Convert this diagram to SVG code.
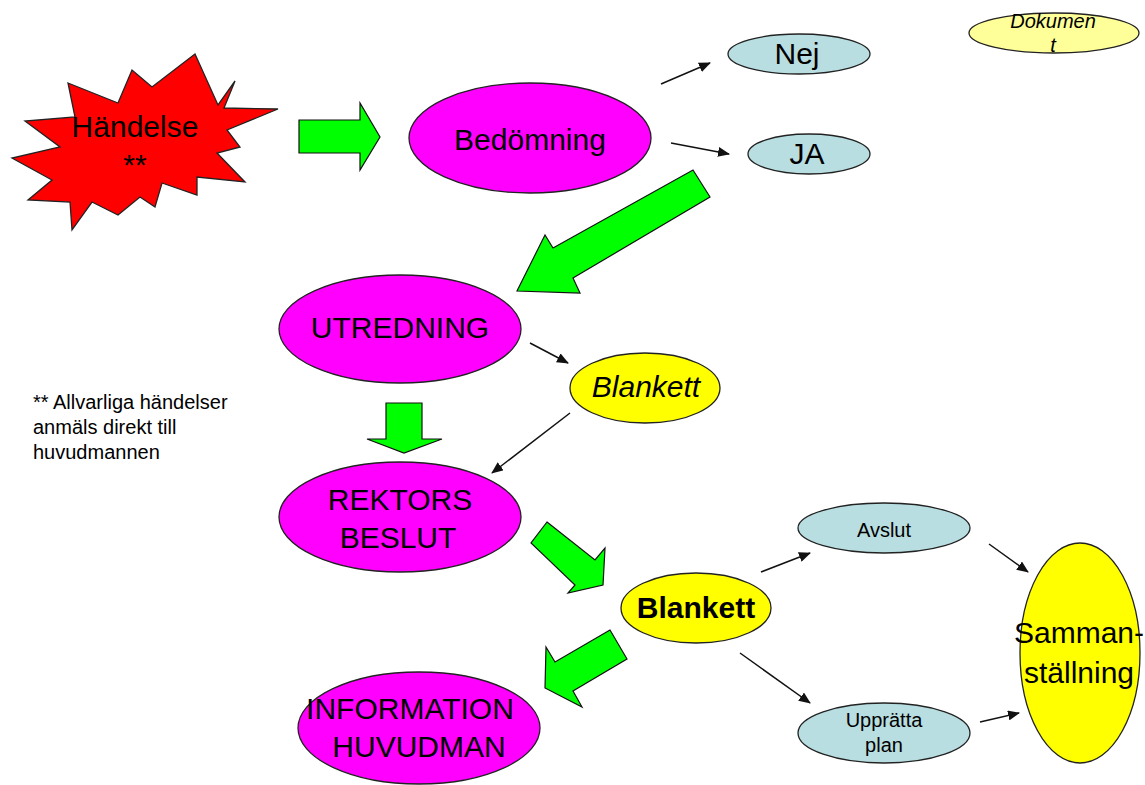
<svg xmlns="http://www.w3.org/2000/svg" width="1145" height="785" viewBox="0 0 1145 785">
<style>
text{font-family:"Liberation Sans",Arial,sans-serif;fill:#000;text-anchor:middle}
.big{font-size:30px}
.small{font-size:20px}
.mag{fill:#FF00FF;stroke:#222;stroke-width:1.3}
.yel{fill:#FFFF00;stroke:#222;stroke-width:1.3}
.blu{fill:#B8DEE1;stroke:#222;stroke-width:1.3}
.pale{fill:#FFFF99;stroke:#222;stroke-width:1.3}
.garrow{fill:#00FF00;stroke:#111;stroke-width:1.2;stroke-linejoin:miter}
.conn{stroke:#111;stroke-width:1.5;fill:none;marker-end:url(#ah)}
</style>
<defs>
<marker id="ah" markerUnits="userSpaceOnUse" markerWidth="12" markerHeight="10" refX="11" refY="5" orient="auto">
<path d="M0,0 L12,5 L0,10 Z" fill="#111"/>
</marker>
</defs>
<rect width="1145" height="785" fill="#fff"/>

<g id="connectors">
<line class="conn" x1="661" y1="84" x2="710" y2="63"/>
<line class="conn" x1="671" y1="143" x2="729" y2="154"/>
<line class="conn" x1="530" y1="343" x2="568" y2="363"/>
<line class="conn" x1="570" y1="413" x2="492" y2="473"/>
<line class="conn" x1="761" y1="572" x2="810" y2="553"/>
<line class="conn" x1="740" y1="653" x2="810" y2="703"/>
<line class="conn" x1="989" y1="544" x2="1028" y2="572"/>
<line class="conn" x1="980" y1="722" x2="1019" y2="713"/>
</g>

<g id="block-arrows">
<polygon class="garrow" points="299,120 360,120 360,103 380,137 360,170 360,153 299,153"/>
<polygon class="garrow" points="693,170 710,197 573,278 580,293 517,291 545,235 553,248"/>
<polygon class="garrow" points="386,403 422,403 422,439 442,439 404,453 367,439 386,439"/>
<polygon class="garrow" points="547,522 595,560 605,548 603,585 568,593 575,585 531,543"/>
<polygon class="garrow" points="610,630 555,662 546,647 545,688 582,707 573,691 627,659"/>
</g>

<g id="handelse">
<polygon points="68,83 118,103 132,70 152,87 195,54 218,105 235,81 224,108 278,109 227,130 240,147 217,153 245,182 197,177 197,195 162,183 155,207 140,197 118,215 92,202 72,230 70,202 28,200 52,180 12,158 60,147 25,121 75,117" fill="#FF0000" stroke="#222" stroke-width="1.3" stroke-linejoin="miter"/>
<text class="big" x="135" y="137">Händelse</text>
<text class="big" x="135" y="175">**</text>
</g>

<g id="bedomning">
<ellipse class="mag" cx="530" cy="138" rx="121" ry="55"/>
<text class="big" x="530" y="150">Bedömning</text>
</g>

<g id="nej">
<ellipse class="blu" cx="799" cy="54" rx="71" ry="20"/>
<text class="big" x="797" y="64">Nej</text>
</g>

<g id="ja">
<ellipse class="blu" cx="809" cy="154" rx="61" ry="20"/>
<text class="big" x="807" y="164">JA</text>
</g>

<g id="dokument">
<ellipse class="pale" cx="1054" cy="33" rx="85" ry="20"/>
<text class="small" x="1053" y="28" font-style="italic">Dokumen</text>
<text class="small" x="1053" y="52" font-style="italic">t</text>
</g>

<g id="utredning">
<ellipse class="mag" cx="400" cy="329" rx="121" ry="54"/>
<text class="big" x="400" y="338">UTREDNING</text>
</g>

<g id="blankett1">
<ellipse class="yel" cx="645" cy="388" rx="75" ry="35"/>
<text class="big" x="646" y="397" font-style="italic">Blankett</text>
</g>

<g id="footnote">
<text class="small" x="33" y="409" text-anchor="start" style="text-anchor:start">** Allvarliga händelser</text>
<text class="small" x="33" y="434" style="text-anchor:start">anmäls direkt till</text>
<text class="small" x="33" y="459" style="text-anchor:start">huvudmannen</text>
</g>

<g id="rektors">
<ellipse class="mag" cx="400" cy="517" rx="121" ry="55"/>
<text class="big" x="400" y="510">REKTORS</text>
<text class="big" x="398" y="548">BESLUT</text>
</g>

<g id="blankett2">
<ellipse class="yel" cx="696" cy="608" rx="75" ry="35"/>
<text class="big" x="696" y="618" font-weight="bold">Blankett</text>
</g>

<g id="information">
<ellipse class="mag" cx="419" cy="728" rx="121" ry="56"/>
<text class="big" x="410" y="719">INFORMATION</text>
<text class="big" x="419" y="757">HUVUDMAN</text>
</g>

<g id="avslut">
<ellipse class="blu" cx="884" cy="528" rx="86" ry="25"/>
<text class="small" x="884" y="537">Avslut</text>
</g>

<g id="uppratta">
<ellipse class="blu" cx="884" cy="733" rx="86" ry="30"/>
<text class="small" x="884" y="727">Upprätta</text>
<text class="small" x="884" y="752">plan</text>
</g>

<g id="sammanstallning">
<ellipse class="yel" cx="1080" cy="653" rx="60" ry="110"/>
<text class="big" x="1079" y="643">Samman-</text>
<text class="big" x="1079" y="683">ställning</text>
</g>
</svg>
